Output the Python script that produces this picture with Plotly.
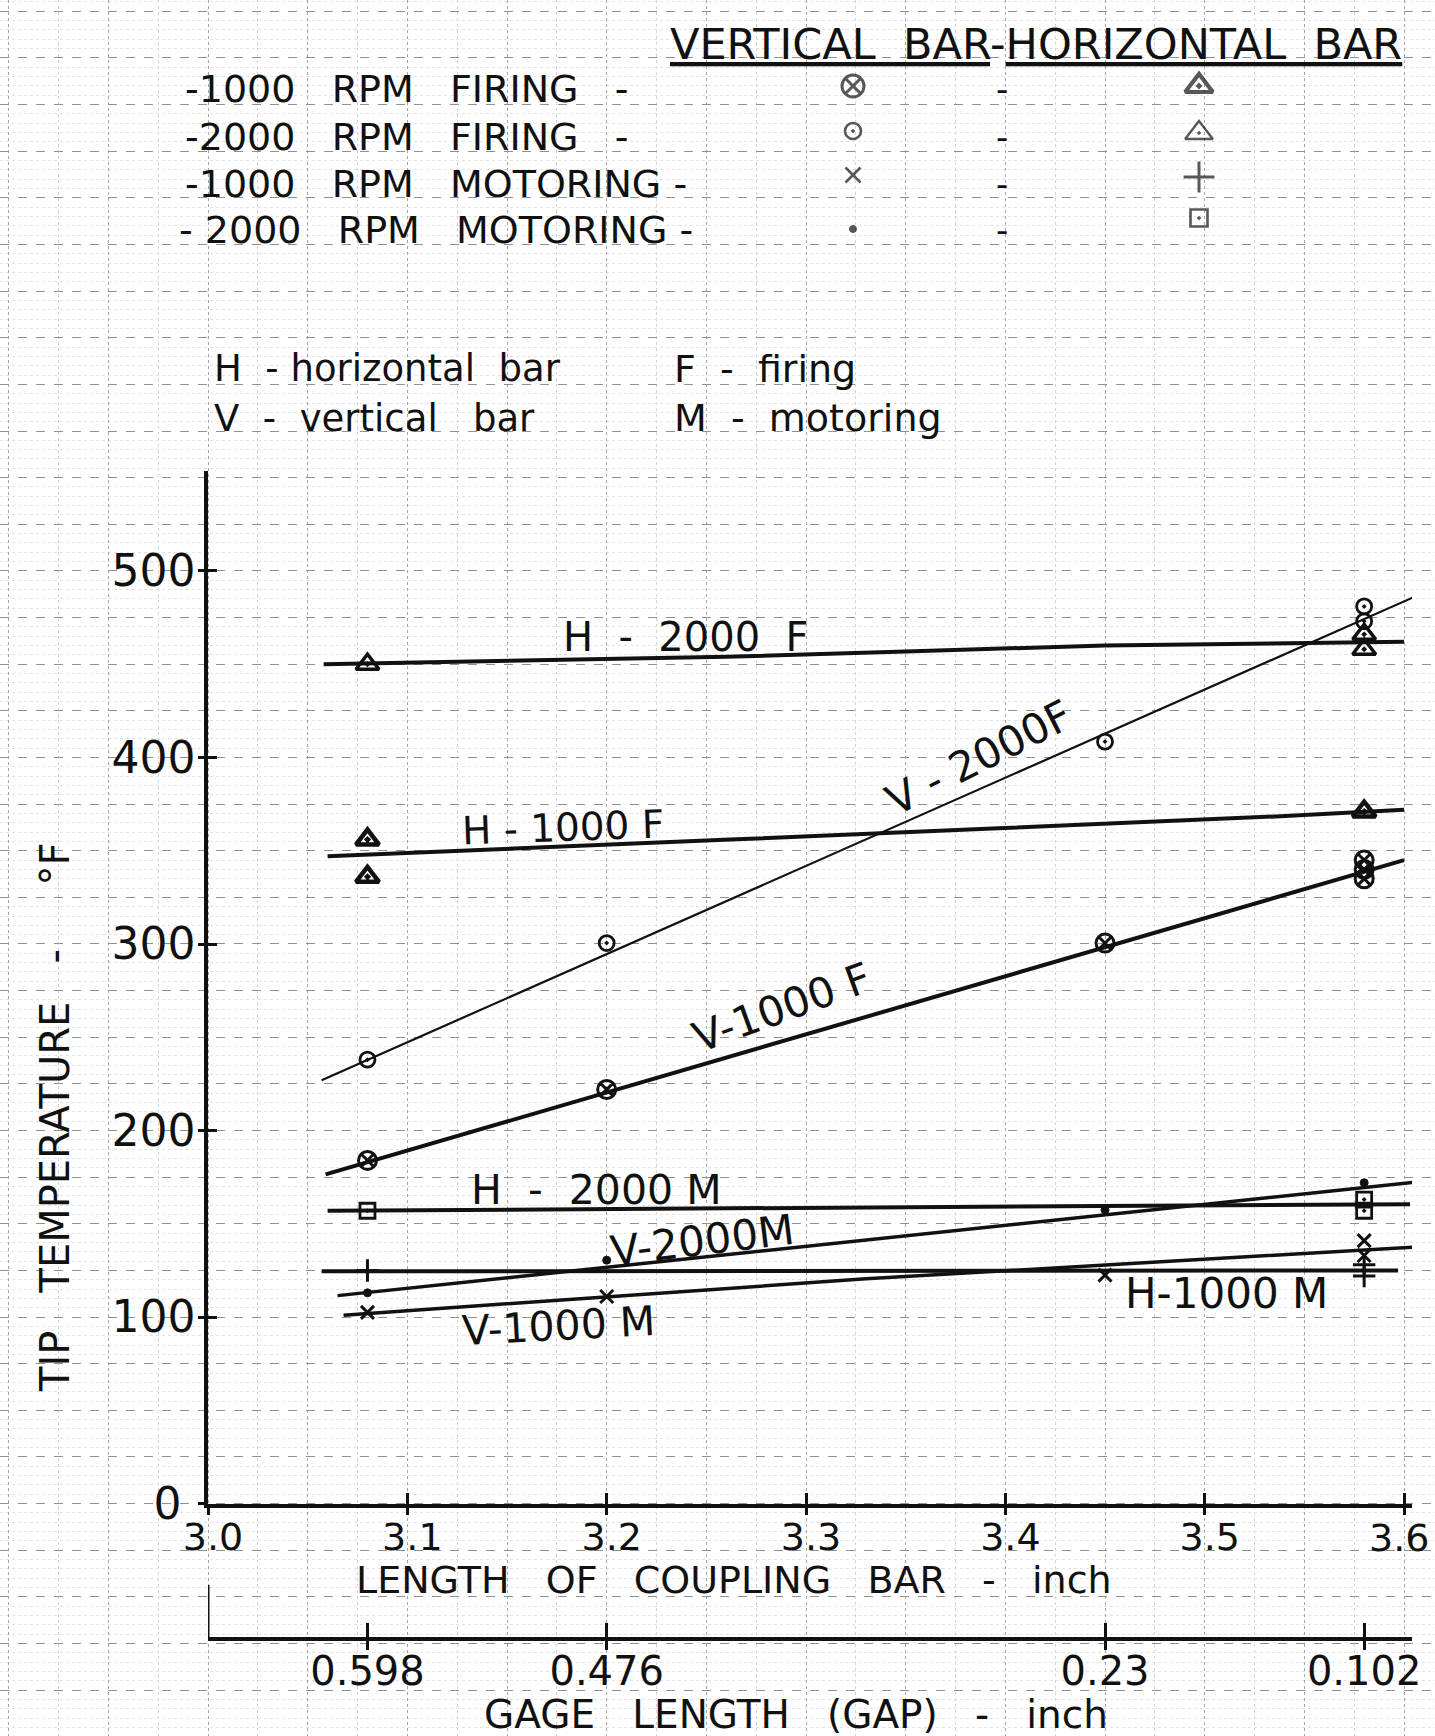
import plotly.graph_objects as go

# ---------------- data ----------------
x_ticks = [3.0, 3.1, 3.2, 3.3, 3.4, 3.5, 3.6]
y_ticks = [0, 100, 200, 300, 400, 500]
gap_pos = [3.08, 3.2, 3.45, 3.58]
gap_labels = ["0.598", "0.476", "0.23", "0.102"]

# measured points
v1000f_x = [3.08, 3.2, 3.45, 3.58, 3.58, 3.58]
v1000f_y = [184, 222, 300.5, 345, 340, 335]
v2000f_x = [3.08, 3.2, 3.45, 3.58, 3.58]
v2000f_y = [238, 300.5, 408.5, 481, 473]
h1000f_x = [3.08, 3.08, 3.58]
h1000f_y = [356, 336, 371]
h2000f_x = [3.08, 3.58, 3.58]
h2000f_y = [450, 466, 458]
v1000m_x = [3.08, 3.2, 3.45, 3.58, 3.58]
v1000m_y = [102.5, 111, 122.5, 141, 133]
v2000m_x = [3.08, 3.2, 3.45, 3.58]
v2000m_y = [113, 130.5, 157.5, 172]
h1000m_x = [3.08, 3.58, 3.58]
h1000m_y = [125, 128, 122]
h2000m_x = [3.08, 3.58, 3.58]
h2000m_y = [157, 163, 157]

# hand-drawn fitted lines (read end/bend points)
v2000f_fit_x = [3.057, 3.606]
v2000f_fit_y = [227, 486.5]
v1000f_fit_x = [3.059, 3.600]
v1000f_fit_y = [176.5, 345]
h2000f_fit_x = [3.058, 3.26, 3.45, 3.60]
h2000f_fit_y = [450, 454, 460, 462]
h1000f_fit_x = [3.060, 3.262, 3.538, 3.600]
h1000f_fit_y = [347, 356, 368.5, 372]
h2000m_fit_x = [3.06, 3.603]
h2000m_fit_y = [157, 160.5]
v2000m_fit_x = [3.065, 3.607]
v2000m_fit_y = [111.5, 172.5]
v1000m_fit_x = [3.068, 3.33, 3.613]
v1000m_fit_y = [101, 120.5, 138]
h1000m_fit_x = [3.057, 3.597]
h1000m_fit_y = [124.5, 125]

# ---------------- layout constants ----------------
W, H = 1435, 1736
INK = "#111111"
FONT = "DejaVu Sans"


def P(px, py):
    return px / W, 1 - py / H


X0_PX, X1_PX = 208, 1412
Y0_PX, Y1_PX = 1503.6, 470.6
X_RANGE = [3.0, 3.604]
Y_RANGE = [0, 553.8]
GAP_AXIS_PX = 1639

fig = go.Figure()

# ---- background graph-paper (pixel) subplot + legend key glyphs ----
leg_x = [853] * 4 + [1199] * 4
leg_y = [86, 131, 175, 229, 86, 133, 177, 218]
leg_sym = ["circle-x-open", "circle-open-dot", "x-thin-open", "circle",
           "triangle-up-open-dot", "triangle-up-open-dot", "cross-thin-open", "square-open-dot"]
leg_size = [22, 16, 15, 7, 24, 24, 22, 17]
leg_lw = [3, 2.6, 2.6, 1, 4.2, 2.4, 3, 2.6]
fig.add_trace(go.Scatter(
    x=leg_x, y=leg_y, mode="markers", xaxis="x", yaxis="y",
    marker=dict(symbol=leg_sym, size=leg_size, color=INK,
                line=dict(color=INK, width=leg_lw)),
    showlegend=False, hoverinfo="skip"))

# ---- fitted lines ----
fits = [
    (v2000f_fit_x, v2000f_fit_y, 2.2),
    (v1000f_fit_x, v1000f_fit_y, 4),
    (h2000f_fit_x, h2000f_fit_y, 4),
    (h1000f_fit_x, h1000f_fit_y, 4),
    (h2000m_fit_x, h2000m_fit_y, 4),
    (v2000m_fit_x, v2000m_fit_y, 3.5),
    (v1000m_fit_x, v1000m_fit_y, 3.5),
    (h1000m_fit_x, h1000m_fit_y, 4),
]
for fx, fy, lw in fits:
    fig.add_trace(go.Scatter(x=fx, y=fy, mode="lines", xaxis="x2", yaxis="y2",
                             line=dict(color=INK, width=lw, shape="spline", smoothing=0.6),
                             showlegend=False, hoverinfo="skip"))

# ---- measured points ----
pts = [
    (v1000f_x, v1000f_y, "circle-x-open", 18, 3),
    (v2000f_x, v2000f_y, "circle-open-dot", 15, 2.8),
    (h1000f_x, h1000f_y, "triangle-up-open-dot", 20, 4.5),
    (h2000f_x, h2000f_y, "triangle-up-open-dot", 20, 3.5),
    (v1000m_x, v1000m_y, "x-thin-open", 13, 3),
    (v2000m_x, v2000m_y, "circle", 8, 1),
    (h1000m_x, h1000m_y, "cross-thin-open", 16, 3),
    (h2000m_x, h2000m_y, "square-open-dot", 15, 2.8),
]
for px_, py_, sym, sz, lw in pts:
    fig.add_trace(go.Scatter(x=px_, y=py_, mode="markers", xaxis="x2", yaxis="y2",
                             marker=dict(symbol=sym, size=sz, color=INK,
                                         line=dict(color=INK, width=lw)),
                             showlegend=False, cliponaxis=False))

# ---- invisible traces registering the extra axes ----
for xa, ya, xs, ys in [("x3", "y2", gap_pos, [None] * len(gap_pos)),
                       ("x5", "y2", gap_pos, [None] * len(gap_pos)),
                       ("x4", "y2", x_ticks, [None] * len(x_ticks)),
                       ("x2", "y3", [None] * len(y_ticks), y_ticks)]:
    fig.add_trace(go.Scatter(x=xs, y=ys, xaxis=xa, yaxis=ya, mode="markers",
                             showlegend=False, hoverinfo="skip"))

# ---------------- axes ----------------
tc = dict(automargin=False, showgrid=False, zeroline=False, tickcolor=INK)
GAP_POS = 1 - GAP_AXIS_PX / H
y_ticktext = [("0\u00a0" if v == 0 else str(v)) for v in y_ticks]
# last x tick label is placed separately (right-aligned) so it stays on the page
x_ticktext = [f"{v:.1f}" for v in x_ticks[:-1]] + [""]
fig.update_layout(
    template="none",
    width=W, height=H,
    margin=dict(l=0, r=0, t=0, b=0, pad=0, autoexpand=False),
    paper_bgcolor="white", plot_bgcolor="rgba(0,0,0,0)",
    font=dict(family=FONT, color=INK),
    showlegend=False,
    xaxis=dict(domain=[0, 1], range=[0, W], showticklabels=False, ticks="",
               zeroline=False, showline=False, fixedrange=True, automargin=False,
               showgrid=True, tick0=X0_PX, dtick=99.67,
               gridcolor="#a4a4a4", griddash="dot", gridwidth=1,
               minor=dict(showgrid=True, tick0=X0_PX, dtick=49.835,
                          gridcolor="#d4d4d4", griddash="dot", gridwidth=1)),
    yaxis=dict(domain=[0, 1], range=[H, 0], showticklabels=False, ticks="",
               zeroline=False, showline=False, fixedrange=True, automargin=False,
               showgrid=True, tick0=Y0_PX, dtick=46.635,
               gridcolor="#909090", griddash="dash", gridwidth=1,
               minor=dict(showgrid=True, tick0=Y0_PX, dtick=9.327,
                          gridcolor="#e2e2e2", griddash="dot", gridwidth=1)),
    # main x axis: labels + inward half of crossing ticks
    xaxis2=dict(domain=[X0_PX / W, X1_PX / W], range=X_RANGE, anchor="y2",
                showline=True, linecolor=INK, linewidth=3.5,
                tickvals=x_ticks, ticktext=x_ticktext,
                ticks="inside", ticklen=11, tickwidth=2.5, ticklabelstandoff=-3,
                ticklabelshift=5, ticklabeloverflow="allow",
                tickfont=dict(size=38, family=FONT, color=INK), **tc),
    xaxis4=dict(overlaying="x2", anchor="y2", range=X_RANGE, side="bottom",
                showline=False, tickvals=x_ticks, showticklabels=False,
                ticks="outside", ticklen=10, tickwidth=2.5, **tc),
    # main y axis
    yaxis2=dict(domain=[1 - Y0_PX / H, 1 - Y1_PX / H], range=Y_RANGE, anchor="x2",
                showline=True, linecolor=INK, linewidth=3.5,
                tickvals=y_ticks, ticktext=y_ticktext,
                ticks="inside", ticklen=9, tickwidth=2.5,
                ticklabelstandoff=0, ticklabeloverflow="allow",
                tickfont=dict(size=44, family=FONT, color=INK), **tc),
    yaxis3=dict(overlaying="y2", anchor="x2", range=Y_RANGE, side="left",
                showline=False, tickvals=y_ticks, showticklabels=False,
                ticks="outside", ticklen=9, tickwidth=2.5, **tc),
    # gage length axis
    xaxis3=dict(overlaying="x2", anchor="free", position=GAP_POS,
                range=X_RANGE, side="bottom",
                showline=True, linecolor=INK, linewidth=3.5,
                tickvals=gap_pos, ticktext=gap_labels,
                ticks="inside", ticklen=14, tickwidth=2.5, ticklabelstandoff=-4,
                ticklabeloverflow="allow",
                tickfont=dict(size=40, family=FONT, color=INK), **tc),
    xaxis5=dict(overlaying="x2", anchor="free", position=GAP_POS,
                range=X_RANGE, side="bottom", showline=False,
                tickvals=gap_pos, showticklabels=False,
                ticks="outside", ticklen=10, tickwidth=2.5, **tc),
)

# bracket joining the gage-length axis
fig.add_shape(type="line", xref="x2", yref="paper", x0=3.0, x1=3.0,
              y0=GAP_POS, y1=1 - 1585 / H, line=dict(color=INK, width=3))

# ---------------- text ----------------
def note(text, px, py, size, anchor="center", angle=0):
    x, y = P(px, py)
    fig.add_annotation(text=text, x=x, y=y, xref="paper", yref="paper",
                       xanchor=anchor, yanchor="middle", textangle=angle,
                       showarrow=False, font=dict(size=size, family=FONT, color=INK))


def dnote(text, x, y, size, angle=0):
    fig.add_annotation(text=text, x=x, y=y, xref="x2", yref="y2",
                       xanchor="center", yanchor="middle", textangle=angle,
                       showarrow=False, font=dict(size=size, family=FONT, color=INK))


# last coupling-bar tick label, kept inside the page
note(f"{x_ticks[-1]:.1f}", 1431, 1538, 38, anchor="right")

note("<u>VERTICAL  BAR</u>-<u>HORIZONTAL  BAR</u>", 668, 44, 43, anchor="left")
note("-1000   RPM   FIRING   -", 183, 89, 38, anchor="left")
note("-2000   RPM   FIRING   -", 183, 137, 38, anchor="left")
note("-1000   RPM   MOTORING -", 183, 184, 38, anchor="left")
note("- 2000   RPM   MOTORING -", 177, 230, 38, anchor="left")
for ry in [89, 137, 184, 230]:
    note("-", 1002, ry, 34)

note("H  - horizontal  bar", 212, 369, 37, anchor="left")
note("V  -  vertical   bar", 212, 418, 37, anchor="left")
note("F  -  firing", 672, 369, 38, anchor="left")
note("M  -  motoring", 672, 418, 38, anchor="left")

note("LENGTH   OF   COUPLING   BAR   -   inch", 734, 1580, 38)
note("GAGE   LENGTH   (GAP)   -   inch", 796, 1714, 39)
note("TIP   TEMPERATURE   -     °F", 55, 1118, 40, angle=-90)

# curve labels
dnote("H  -  2000  F", 3.240, 464.7, 40)
dnote("V - 2000F", 3.387, 400, 42, angle=-27)
dnote("H - 1000 F", 3.178, 362.5, 39, angle=-2)
dnote("V-1000 F", 3.288, 266, 42, angle=-20)
dnote("H  -  2000 M", 3.195, 168, 41)
dnote("V-2000M", 3.248, 141, 42, angle=-7)
dnote("V-1000 M", 3.176, 95, 41, angle=-3)
dnote("H-1000 M", 3.511, 112.7, 42)

fig.write_html("out.html")
